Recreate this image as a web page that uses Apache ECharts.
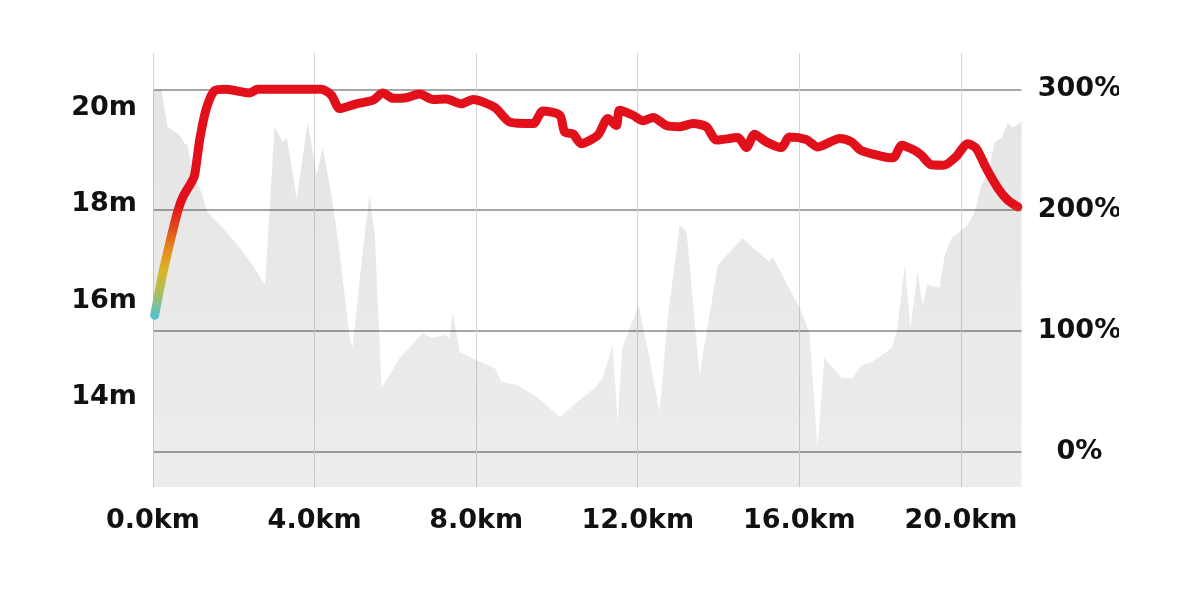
<!DOCTYPE html>
<html>
<head>
<meta charset="utf-8">
<script src="https://cdn.jsdelivr.net/npm/echarts@6/dist/echarts.min.js"></script>
<style>
html,body{margin:0;padding:0;background:#fff;}
#chart{width:1119px;height:610px;}
</style>
</head>
<body>
<div id="chart"></div>
<script>
// Elevation profile (km, m)
const elevKm = [0, 0.21, 0.36, 0.66, 0.78, 0.86, 0.98, 1.16, 1.35, 1.73, 2.15, 2.47, 2.77, 2.89, 3.01, 3.21, 3.31, 3.56, 3.83, 4.05, 4.20, 4.42, 4.62, 4.87, 4.94, 5.19, 5.36, 5.49, 5.66, 6.11, 6.68, 6.90, 7.22, 7.34, 7.42, 7.59, 8.01, 8.46, 8.63, 9.00, 9.50, 10.07, 10.49, 10.93, 11.13, 11.38, 11.50, 11.62, 12.02, 12.29, 12.54, 12.74, 13.04, 13.21, 13.53, 13.98, 14.59, 15.26, 15.34, 16.01, 16.25, 16.45, 16.62, 17.05, 17.32, 17.54, 17.79, 18.29, 18.43, 18.61, 18.75, 18.93, 19.05, 19.17, 19.47, 19.60, 19.77, 19.97, 20.16, 20.34, 20.51, 20.71, 20.83, 21.01, 21.16, 21.28, 21.45, 21.5];
const elevM = [20.23, 20.23, 19.47, 19.30, 19.13, 19.09, 18.47, 18.20, 17.70, 17.37, 16.96, 16.60, 16.19, 17.79, 19.47, 19.15, 19.24, 17.99, 19.57, 18.47, 19.03, 18.06, 16.87, 15.09, 14.90, 16.87, 18.06, 17.23, 14.05, 14.68, 15.19, 15.09, 15.15, 15.09, 15.63, 14.80, 14.63, 14.47, 14.18, 14.12, 13.87, 13.45, 13.76, 14.05, 14.26, 14.94, 13.35, 14.88, 15.77, 14.68, 13.56, 15.50, 17.43, 17.29, 14.32, 16.60, 17.16, 16.67, 16.77, 15.71, 15.21, 12.81, 14.68, 14.26, 14.26, 14.53, 14.59, 14.88, 15.30, 16.60, 15.30, 16.46, 15.77, 16.19, 16.13, 16.81, 17.16, 17.29, 17.43, 17.70, 18.26, 18.62, 19.15, 19.24, 19.55, 19.45, 19.55, 19.60];

// Percentage line (km, %)
const pctKm = [0.04, 0.25, 0.46, 0.62, 0.74, 0.95, 1.03, 1.16, 1.32, 1.53, 1.8, 2.39, 2.59, 4.17, 4.42, 4.62, 5.03, 5.45, 5.69, 5.94, 6.27, 6.60, 6.93, 7.26, 7.63, 7.92, 8.46, 8.83, 9.41, 9.65, 10.07, 10.19, 10.40, 10.60, 11.01, 11.26, 11.47, 11.55, 11.88, 12.13, 12.38, 12.71, 13.04, 13.37, 13.70, 13.95, 14.48, 14.69, 14.89, 15.18, 15.55, 15.76, 16.17, 16.46, 17.00, 17.29, 17.52, 17.99, 18.32, 18.54, 18.85, 19.02, 19.27, 19.58, 19.87, 20.17, 20.38, 20.63, 20.92, 21.16, 21.41];
const pctVal = [113, 149, 179, 200, 211, 223, 229, 259, 284, 299, 300, 297, 300, 300, 295, 284, 288, 291, 297, 292.5, 293, 296, 291.5, 292, 288, 291.5, 285, 273, 271.6, 282, 278.5, 264.7, 263, 255, 262, 275.8, 270, 282.6, 278.5, 274, 276.6, 270, 269, 271.6, 269, 258, 260, 251.8, 262.8, 256.5, 251.8, 260.6, 258.4, 252.3, 259.2, 256.5, 249.6, 245, 243.3, 253.7, 249.5, 245.5, 237.5, 237.2, 244, 255, 251, 234.5, 218, 208.3, 202.7];

const xTickUnit = 'km';
const elevUnit = 'm';
const pctUnit = '%';

const elevData = elevKm.map((k, i) => [k, elevM[i]]);
const pctData = pctKm.map((k, i) => [k, pctVal[i]]);

const labelFont = { fontFamily: 'DejaVu Sans', fontWeight: 'bold', fontSize: 27, color: '#111' };

const chart = echarts.init(document.getElementById('chart'), null, { renderer: 'canvas' });
chart.setOption({
  animation: false,
  backgroundColor: '#fff',
  grid: { left: 153, right: 97.5, top: 53, bottom: 123, containLabel: false, outerBoundsMode: 'none' },
  xAxis: {
    type: 'value', min: 0, max: 21.5, interval: 4,
    axisLine: { show: false }, axisTick: { show: false },
    axisLabel: Object.assign({}, labelFont, { margin: 20, showMaxLabel: false,
      formatter: v => v.toFixed(1) + xTickUnit }),
    splitLine: { show: true, showMaxLine: false, lineStyle: { color: '#d6d6d6', width: 1 } }
  },
  yAxis: [
    {
      type: 'value', min: 12, max: 21, interval: 2, position: 'left',
      axisLine: { show: false }, axisTick: { show: false },
      splitLine: { show: false },
      axisLabel: Object.assign({}, labelFont, { margin: 16, showMinLabel: false, showMaxLabel: false,
        formatter: v => '{a|' + v + elevUnit + '}',
        rich: { a: Object.assign({}, labelFont, { padding: [13, 0, 0, 0] }) } })
    },
    {
      type: 'value', min: -29, max: 330, splitNumber: 4, minInterval: 100, maxInterval: 100, position: 'right',
      axisLine: { show: false }, axisTick: { show: false },
      splitLine: { show: true, showMinLine: false, showMaxLine: false, lineStyle: { color: '#8a8a8a', width: 1.5 } },
      axisLabel: Object.assign({}, labelFont, { margin: 58, align: 'center', showMinLabel: false, showMaxLabel: false,
        formatter: v => v + pctUnit })
    }
  ],
  visualMap: {
    show: false, type: 'continuous', seriesIndex: 1, dimension: 1,
    min: 113, max: 205,
    inRange: { color: ['#57c3c8', '#a9bf5a', '#d9b526', '#e48a1c', '#e2461a', '#e2101a'] }
  },
  series: [
    {
      type: 'line', yAxisIndex: 0, data: elevData, symbol: 'none', silent: true,
      lineStyle: { width: 0 },
      areaStyle: {
        origin: 'start',
        color: { type: 'linear', x: 0, y: 0, x2: 0, y2: 1,
          colorStops: [{ offset: 0, color: 'rgba(0,0,0,0.15)' }, { offset: 1, color: 'rgba(0,0,0,0.1)' }] }
      },
      z: 1
    },
    {
      type: 'line', yAxisIndex: 1, data: pctData, symbol: 'none', smooth: 0.25,
      lineStyle: { width: 9, cap: 'round', join: 'round' },
      z: 3
    }
  ]
});
</script>
</body>
</html>
